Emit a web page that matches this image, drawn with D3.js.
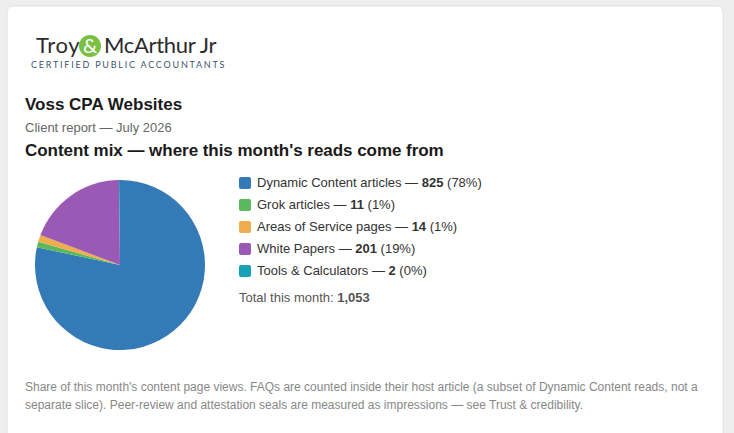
<!DOCTYPE html>
<html>
<head>
<meta charset="utf-8">
<script src="https://cdn.jsdelivr.net/npm/d3@7"></script>
<style>
    html, body { margin: 0; padding: 0; background: #eeeeee; overflow: hidden; }
    svg { display: block; font-family: "Liberation Sans", Arial, sans-serif; }
</style>
</head>
<body>
<svg width="734" height="433"></svg>
<script>
var categories = ["Dynamic Content articles", "Grok articles", "Areas of Service pages", "White Papers", "Tools & Calculators"];
var reads = [825, 11, 14, 201, 2];
var shares = ["78%", "1%", "1%", "19%", "0%"];
var colors = ["#337ab7", "#5cb85c", "#f0ad4e", "#9b59b6", "#17a2b8"];
var totalLabel = "1,053";
var footnotes = [
    "Share of this month's content page views. FAQs are counted inside their host article (a subset of Dynamic Content reads, not a",
    "separate slice). Peer-review and attestation seals are measured as impressions \u2014 see Trust & credibility."
];

var svg = d3.select("svg");

// card
svg.append("rect")
    .attr("x", 7).attr("y", 6)
    .attr("width", 716).attr("height", 460)
    .attr("rx", 6)
    .attr("fill", "#fff")
    .attr("stroke", "#e2e2e2");

// logo
var logo = svg.append("g").attr("font-family", "Lato, sans-serif");
logo.append("text").attr("x", 36).attr("y", 53)
    .attr("font-size", 22).attr("letter-spacing", 0.7).attr("fill", "#2b2b2b").text("Troy");
logo.append("circle").attr("cx", 90).attr("cy", 46).attr("r", 11).attr("fill", "#7ac143");
logo.append("text").attr("x", 90).attr("y", 53).attr("text-anchor", "middle")
    .attr("font-size", 20).attr("fill", "#fff").text("&");
logo.append("text").attr("x", 104).attr("y", 53)
    .attr("font-size", 22).attr("letter-spacing", -0.3).attr("fill", "#2b2b2b").text("McArthur Jr");
logo.append("text").attr("x", 31).attr("y", 68)
    .attr("font-size", 9).attr("letter-spacing", 1.77).attr("fill", "#3d5570")
    .text("CERTIFIED PUBLIC ACCOUNTANTS");

// headings
svg.append("text").attr("x", 25).attr("y", 110)
    .attr("font-size", 17).attr("font-weight", "bold").attr("fill", "#1a1a1a")
    .text("Voss CPA Websites");
svg.append("text").attr("x", 25).attr("y", 132)
    .attr("font-size", 13).attr("fill", "#666")
    .text("Client report \u2014 July 2026");
svg.append("text").attr("x", 25).attr("y", 156)
    .attr("font-size", 17).attr("letter-spacing", -0.04).attr("font-weight", "bold").attr("fill", "#1a1a1a")
    .text("Content mix \u2014 where this month's reads come from");

// pie, clockwise from 12 o'clock in legend order
var pie = d3.pie().sort(null);
var arc = d3.arc().innerRadius(0).outerRadius(85);

svg.append("g")
    .attr("transform", "translate(120,265)")
    .selectAll("path")
    .data(pie(reads))
    .enter()
    .append("path")
    .attr("d", arc)
    .attr("fill", function (d, i) { return colors[i]; });

// legend
var rowY = d3.scalePoint().domain(d3.range(categories.length)).range([183, 271]);

var rows = svg.append("g")
    .selectAll("g")
    .data(categories)
    .enter()
    .append("g")
    .attr("transform", function (d, i) { return "translate(239," + rowY(i) + ")"; });

rows.append("rect")
    .attr("y", -6).attr("width", 12).attr("height", 12).attr("rx", 2)
    .attr("fill", function (d, i) { return colors[i]; });

var rowText = rows.append("text")
    .attr("x", 18).attr("y", 4)
    .attr("font-size", 13).attr("fill", "#333");
rowText.append("tspan").text(function (d) { return d + " \u2014 "; });
rowText.append("tspan").attr("font-weight", "bold").text(function (d, i) { return reads[i]; });
rowText.append("tspan").text(function (d, i) { return " (" + shares[i] + ")"; });

var total = svg.append("text").attr("x", 239).attr("y", 302)
    .attr("font-size", 13).attr("fill", "#555");
total.append("tspan").text("Total this month: ");
total.append("tspan").attr("font-weight", "bold").text(totalLabel);

// footnote
svg.append("g")
    .selectAll("text")
    .data(footnotes)
    .enter()
    .append("text")
    .attr("x", 25)
    .attr("y", function (d, i) { return 391 + i * 18; })
    .attr("font-size", 12).attr("fill", "#888")
    .text(function (d) { return d; });
</script>
</body>
</html>
